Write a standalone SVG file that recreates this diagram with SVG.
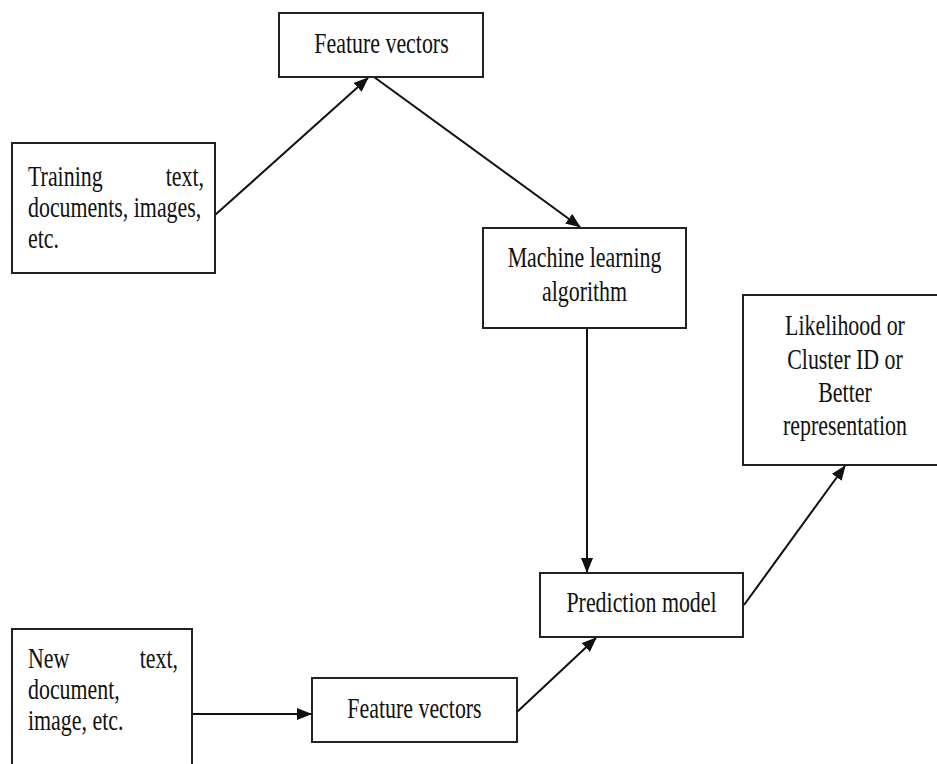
<svg xmlns="http://www.w3.org/2000/svg" width="937" height="764" viewBox="0 0 937 764">
  <style>
    .box { fill: #ffffff; stroke: #222222; stroke-width: 2; }
    .lbl { font-family: "Liberation Serif", "Times New Roman", serif; font-size: 29px; fill: #111111; }
    .mid { text-anchor: middle; }
    .end { text-anchor: end; }
    .conn { stroke: #111111; stroke-width: 2; fill: none; marker-end: url(#arrow); }
  </style>
  <defs>
    <marker id="arrow" viewBox="0 0 15 12" markerUnits="userSpaceOnUse" markerWidth="15" markerHeight="12" refX="14" refY="6" orient="auto">
      <path d="M0,0 L15,6 L0,12 z" fill="#111111"/>
    </marker>
  </defs>
  <rect width="937" height="764" fill="#ffffff"/>

  <g id="connectors">
    <line class="conn" x1="215" y1="215" x2="368" y2="78"/>
    <line class="conn" x1="374" y1="77" x2="580" y2="227"/>
    <line class="conn" x1="587" y1="328" x2="587" y2="572"/>
    <line class="conn" x1="192" y1="714" x2="311" y2="714"/>
    <line class="conn" x1="517" y1="712" x2="596" y2="638"/>
    <line class="conn" x1="744" y1="605" x2="845" y2="466"/>
  </g>

  <g id="feature-vectors-top">
    <rect class="box" x="279" y="13" width="204" height="64"/>
    <text class="lbl mid" transform="scale(0.755 1)" x="505.3" y="53">Feature vectors</text>
  </g>

  <g id="training">
    <rect class="box" x="12" y="143" width="203" height="130"/>
    <text class="lbl" transform="scale(0.755 1)" y="186"><tspan x="37.1">Training</tspan><tspan class="end" x="270.2">text,</tspan></text>
    <text class="lbl" transform="scale(0.755 1)" x="37.1" y="217">documents, images,</text>
    <text class="lbl" transform="scale(0.755 1)" x="37.1" y="248">etc.</text>
  </g>

  <g id="ml-algorithm">
    <rect class="box" x="483" y="228" width="203" height="100"/>
    <text class="lbl mid" transform="scale(0.755 1)" x="774.2" y="267">Machine learning</text>
    <text class="lbl mid" transform="scale(0.755 1)" x="774.2" y="301">algorithm</text>
  </g>

  <g id="output">
    <rect class="box" x="743" y="295" width="210" height="170"/>
    <text class="lbl mid" transform="scale(0.755 1)" x="1119.2" y="335">Likelihood or</text>
    <text class="lbl mid" transform="scale(0.755 1)" x="1119.2" y="369">Cluster ID or</text>
    <text class="lbl mid" transform="scale(0.755 1)" x="1119.2" y="402">Better</text>
    <text class="lbl mid" transform="scale(0.755 1)" x="1119.2" y="435">representation</text>
  </g>

  <g id="prediction-model">
    <rect class="box" x="540" y="573" width="203" height="64"/>
    <text class="lbl mid" transform="scale(0.755 1)" x="849.7" y="612">Prediction model</text>
  </g>

  <g id="new-input">
    <rect class="box" x="12" y="629" width="180" height="150"/>
    <text class="lbl" transform="scale(0.755 1)" y="668"><tspan x="37.1">New</tspan><tspan class="end" x="235.8">text,</tspan></text>
    <text class="lbl" transform="scale(0.755 1)" x="37.1" y="699">document,</text>
    <text class="lbl" transform="scale(0.755 1)" x="37.1" y="730">image, etc.</text>
  </g>

  <g id="feature-vectors-bottom">
    <rect class="box" x="312" y="678" width="205" height="64"/>
    <text class="lbl mid" transform="scale(0.755 1)" x="549" y="718">Feature vectors</text>
  </g>
</svg>
